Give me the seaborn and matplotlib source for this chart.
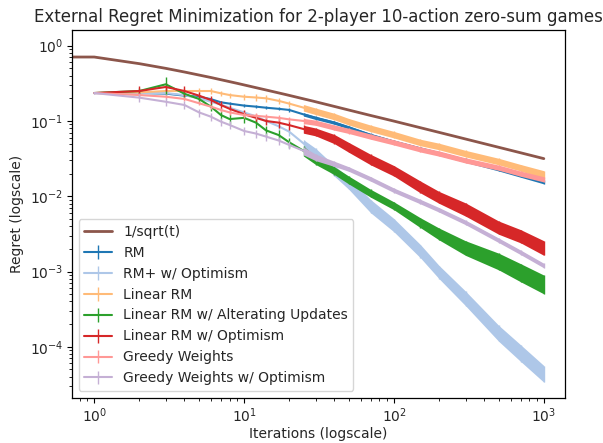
import numpy as np
import matplotlib
matplotlib.use("Agg")
import matplotlib.pyplot as plt
import seaborn as sns

iters = [1, 2, 3, 4, 5, 6, 7, 8, 10, 12, 14, 17, 20, 25, 30, 40, 50, 70, 100, 150, 200, 300, 500, 700, 1000]

# 1/sqrt(t) reference line
ref_t = [0, 1, 2, 3, 4, 6, 9, 14, 19, 29, 49, 69, 99, 149, 199, 299, 499, 699, 999]
ref_y = [1.0, 0.707, 0.577, 0.5, 0.447, 0.378, 0.316, 0.258, 0.224, 0.183, 0.141, 0.119, 0.1,
         0.0816, 0.0707, 0.0577, 0.0447, 0.0378, 0.0316]

rm = [0.235, 0.235, 0.231, 0.217, 0.21, 0.195, 0.177, 0.17, 0.16, 0.155, 0.15, 0.145, 0.14, 0.122,
      0.11, 0.095, 0.082, 0.065, 0.053, 0.043, 0.037, 0.03, 0.023, 0.019, 0.0155]
rm_plus_opt = [0.235, 0.235, 0.235, 0.22, 0.2, 0.18, 0.165, 0.15, 0.13, 0.115, 0.1, 0.085, 0.072, 0.05,
               0.038, 0.022, 0.015, 0.0075, 0.0042, 0.0019, 0.001, 4.5e-4, 1.55e-4, 8.5e-5, 4.5e-5]
linear_rm = [0.235, 0.24, 0.25, 0.25, 0.25, 0.25, 0.233, 0.221, 0.21, 0.205, 0.2, 0.185, 0.17, 0.15,
             0.135, 0.115, 0.098, 0.08, 0.066, 0.052, 0.046, 0.037, 0.029, 0.024, 0.0195]
linear_alt = [0.235, 0.25, 0.307, 0.23, 0.196, 0.155, 0.12, 0.106, 0.11, 0.095, 0.075, 0.065, 0.052, 0.04,
              0.03, 0.022, 0.0165, 0.011, 0.0075, 0.0045, 0.0032, 0.0021, 0.0014, 0.001, 7e-4]
linear_opt = [0.235, 0.25, 0.283, 0.25, 0.217, 0.19, 0.163, 0.145, 0.123, 0.11, 0.1, 0.095, 0.088, 0.078,
              0.072, 0.058, 0.045, 0.031, 0.022, 0.0135, 0.0098, 0.0068, 0.0039, 0.003, 0.0021]
greedy = [0.235, 0.221, 0.21, 0.196, 0.172, 0.155, 0.14, 0.13, 0.12, 0.117, 0.114, 0.11, 0.105, 0.1,
          0.095, 0.082, 0.074, 0.062, 0.052, 0.042, 0.037, 0.03, 0.024, 0.02, 0.0168]
greedy_opt = [0.235, 0.204, 0.18, 0.163, 0.13, 0.114, 0.098, 0.0885, 0.0736, 0.068, 0.062, 0.055, 0.048, 0.04,
              0.033, 0.027, 0.023, 0.017, 0.012, 0.0085, 0.0066, 0.0045, 0.0026, 0.0018, 0.0012]

# relative half-width of the error bars
rm_err = [0.01, 0.03, 0.04, 0.04, 0.04, 0.04, 0.04, 0.04, 0.04, 0.05, 0.05, 0.05, 0.05, 0.05,
          0.05, 0.05, 0.05, 0.05, 0.05, 0.05, 0.06, 0.06, 0.06, 0.06, 0.06]
rm_plus_opt_err = [0.01, 0.05, 0.05, 0.05, 0.06, 0.06, 0.07, 0.07, 0.08, 0.08, 0.1, 0.1, 0.12, 0.12,
                   0.14, 0.16, 0.18, 0.2, 0.2, 0.2, 0.2, 0.22, 0.24, 0.25, 0.25]
linear_rm_err = [0.01, 0.06, 0.08, 0.08, 0.08, 0.08, 0.08, 0.08, 0.1, 0.1, 0.1, 0.1, 0.1, 0.1,
                 0.1, 0.1, 0.1, 0.1, 0.1, 0.1, 0.1, 0.1, 0.1, 0.1, 0.12]
linear_alt_err = [0.01, 0.1, 0.25, 0.12, 0.12, 0.12, 0.12, 0.15, 0.15, 0.15, 0.15, 0.15, 0.15, 0.15,
                  0.12, 0.12, 0.12, 0.12, 0.12, 0.15, 0.18, 0.22, 0.25, 0.27, 0.28]
linear_opt_err = [0.01, 0.15, 0.12, 0.15, 0.12, 0.12, 0.12, 0.12, 0.12, 0.12, 0.12, 0.15, 0.15, 0.12,
                  0.12, 0.14, 0.15, 0.16, 0.16, 0.18, 0.18, 0.2, 0.2, 0.2, 0.22]
greedy_err = [0.01, 0.05, 0.06, 0.06, 0.06, 0.06, 0.07, 0.07, 0.08, 0.08, 0.08, 0.08, 0.08, 0.08,
              0.08, 0.08, 0.08, 0.08, 0.08, 0.08, 0.08, 0.08, 0.08, 0.08, 0.08]
greedy_opt_err = [0.03, 0.12, 0.12, 0.12, 0.12, 0.12, 0.12, 0.12, 0.12, 0.12, 0.12, 0.12, 0.12, 0.12,
                  0.1, 0.08, 0.07, 0.07, 0.07, 0.07, 0.07, 0.07, 0.07, 0.07, 0.07]

names = ["RM", "RM+ w/ Optimism", "Linear RM", "Linear RM w/ Alterating Updates",
         "Linear RM w/ Optimism", "Greedy Weights", "Greedy Weights w/ Optimism"]
values = [rm, rm_plus_opt, linear_rm, linear_alt, linear_opt, greedy, greedy_opt]
errors = [rm_err, rm_plus_opt_err, linear_rm_err, linear_alt_err, linear_opt_err, greedy_err, greedy_opt_err]

pal = sns.color_palette("tab20")
colors = [pal[0], pal[1], pal[3], pal[4], pal[6], pal[7], pal[9]]

sns.set_style("white")
plt.rcParams["font.family"] = ["DejaVu Sans"]
plt.rcParams["xtick.bottom"] = True
plt.rcParams["ytick.left"] = True

fig, ax = plt.subplots(figsize=(6.03, 4.43), dpi=100)
fig.subplots_adjust(left=0.119, right=0.937, top=0.932, bottom=0.102)

sns.lineplot(x=ref_t, y=ref_y, color=pal[10], lw=2, label="1/sqrt(t)", ax=ax, zorder=2)

x = np.array(iters, dtype=float)
dense = x >= 25
for i, (name, vals, err, c) in enumerate(zip(names, values, errors, colors)):
    y = np.array(vals)
    yerr = y * np.array(err)
    z = 2.1 + i * 0.1
    ax.fill_between(x[dense], (y - yerr)[dense], (y + yerr)[dense], color=c, lw=0, zorder=z)
    ax.errorbar(x, y, yerr=yerr, color=c, lw=1.5, elinewidth=1.0, label=name, zorder=z)

ax.set_xscale("log")
ax.set_yscale("log")
ax.set_xlim(0.708, 1383)
ax.set_ylim(2.1e-5, 1.61)

for s in ax.spines.values():
    s.set_color("black")
    s.set_linewidth(0.9)
ax.tick_params(which="both", direction="out", color="black", labelsize=10, pad=2.5)

ax.set_title("External Regret Minimization for 2-player 10-action zero-sum games", fontsize=12)
ax.set_xlabel("Iterations (logscale)", fontsize=10, labelpad=1.5)
ax.set_ylabel("Regret (logscale)", fontsize=10)
ax.legend(loc="lower left", fontsize=10)

fig.savefig("out.png", dpi=100)
